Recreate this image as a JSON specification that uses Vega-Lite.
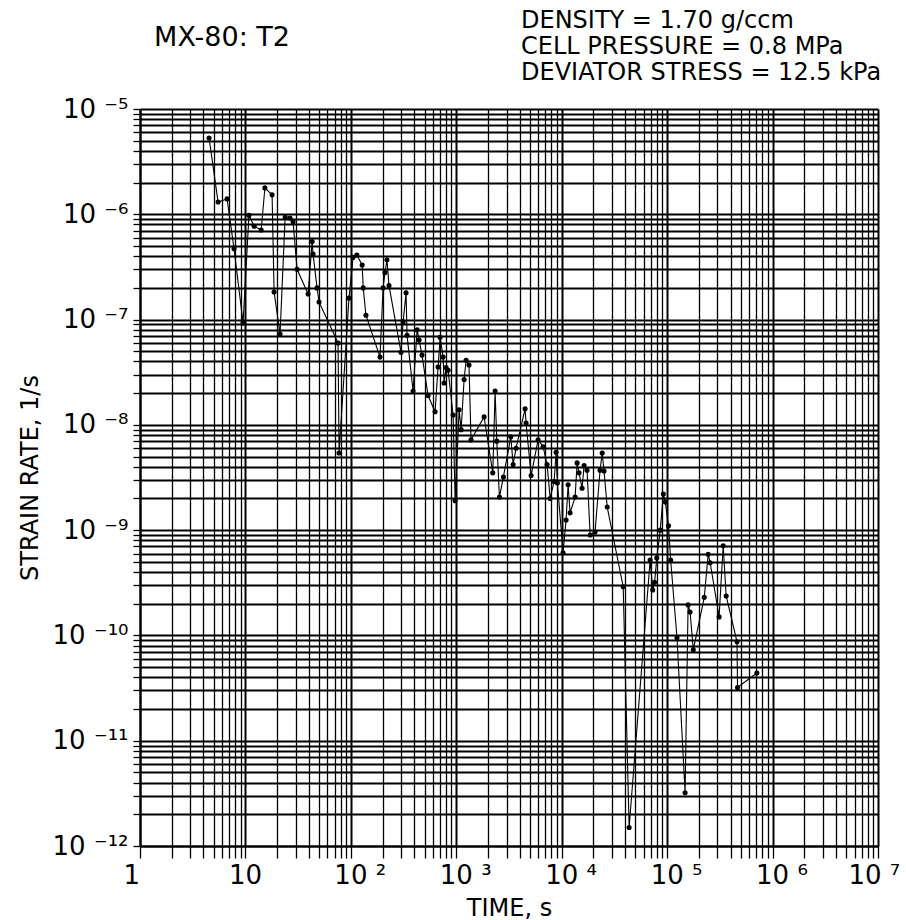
{
  "$schema": "https://vega.github.io/schema/vega-lite/v6.json",
  "autosize": {"type": "none"},
  "padding": {"left": 140, "top": 109, "right": 28, "bottom": 74},
  "width": 738,
  "height": 737,
  "background": "white",
  "config": {
    "view": {"stroke": null},
    "font": "DejaVu Sans",
    "axis": {
      "domainColor": "black", "domainWidth": 2,
      "gridColor": "black", "gridOpacity": 1,
      "tickColor": "black", "tickWidth": 1.3,
      "labelColor": "black", "titleColor": "black",
      "labelFont": "DejaVu Sans", "titleFont": "DejaVu Sans",
      "labelFontWeight": "normal", "titleFontWeight": "normal",
      "labelOverlap": false, "labelFlush": false, "labelBound": false
    }
  },
  "title": {
    "text": ["DENSITY = 1.70 g/ccm", "CELL PRESSURE = 0.8 MPa", "DEVIATOR STRESS = 12.5 kPa"],
    "anchor": "start", "frame": "group", "align": "left", "baseline": "bottom",
    "dx": 381, "dy": 97, "offset": 12, "fontSize": 24, "lineHeight": 26,
    "font": "DejaVu Sans", "fontWeight": "normal", "color": "black"
  },
  "layer": [
    {
      "data": {"name": "series", "values": [
        {"t": 4.52, "r": 5.3e-6}, {"t": 5.5, "r": 1.31e-6}, {"t": 6.7, "r": 1.4e-6}, {"t": 7.8, "r": 4.7e-7},
        {"t": 9.5, "r": 9.3e-8}, {"t": 10.8, "r": 9.8e-7}, {"t": 12.1, "r": 7.7e-7}, {"t": 14.1, "r": 7.1e-7},
        {"t": 15.3, "r": 1.78e-6}, {"t": 17.9, "r": 1.53e-6}, {"t": 18.7, "r": 1.83e-7}, {"t": 21.3, "r": 7.3e-8},
        {"t": 23.8, "r": 9.4e-7}, {"t": 26.5, "r": 9.2e-7}, {"t": 28.3, "r": 8.5e-7}, {"t": 30.9, "r": 3.0e-7},
        {"t": 39.3, "r": 1.75e-7}, {"t": 42.9, "r": 5.5e-7}, {"t": 43.8, "r": 4.2e-7}, {"t": 47.8, "r": 2.0e-7},
        {"t": 49.9, "r": 1.47e-7}, {"t": 75.6, "r": 6.0e-8}, {"t": 77.3, "r": 5.4e-9}, {"t": 96, "r": 1.6e-7},
        {"t": 105, "r": 3.9e-7}, {"t": 114, "r": 4.1e-7}, {"t": 128, "r": 3.3e-7}, {"t": 131, "r": 2.0e-7},
        {"t": 139, "r": 1.1e-7}, {"t": 189, "r": 4.4e-8}, {"t": 202, "r": 2.0e-7}, {"t": 211, "r": 2.8e-7},
        {"t": 220, "r": 3.7e-7}, {"t": 230, "r": 2.1e-7}, {"t": 299, "r": 4.9e-8}, {"t": 313, "r": 9.5e-8},
        {"t": 334, "r": 1.8e-7}, {"t": 341, "r": 7.1e-8}, {"t": 389, "r": 2.1e-8}, {"t": 425, "r": 8.0e-8},
        {"t": 444, "r": 6.4e-8}, {"t": 473, "r": 4.6e-8}, {"t": 540, "r": 1.9e-8}, {"t": 629, "r": 1.33e-8},
        {"t": 672, "r": 3.55e-8}, {"t": 702, "r": 6.8e-8}, {"t": 750, "r": 4.4e-8}, {"t": 766, "r": 2.5e-8},
        {"t": 800, "r": 3.5e-8}, {"t": 836, "r": 3.3e-8}, {"t": 933, "r": 1.24e-8}, {"t": 975, "r": 1.9e-9},
        {"t": 1064, "r": 1.39e-8}, {"t": 1111, "r": 9.0e-9}, {"t": 1186, "r": 2.7e-8}, {"t": 1239, "r": 4.1e-8},
        {"t": 1320, "r": 3.7e-8}, {"t": 1380, "r": 7.2e-9}, {"t": 1836, "r": 1.19e-8}, {"t": 2218, "r": 3.5e-9},
        {"t": 2335, "r": 2.1e-8}, {"t": 2422, "r": 7.0e-9}, {"t": 2566, "r": 2.06e-9}, {"t": 2800, "r": 3.2e-9},
        {"t": 3290, "r": 7.7e-9}, {"t": 3460, "r": 4.2e-9}, {"t": 3690, "r": 6.0e-9}, {"t": 4495, "r": 1.42e-8},
        {"t": 4590, "r": 1.04e-8}, {"t": 5125, "r": 3.3e-9}, {"t": 5970, "r": 7.2e-9}, {"t": 6665, "r": 6.2e-9},
        {"t": 7270, "r": 4.2e-9}, {"t": 7765, "r": 2.0e-9}, {"t": 8470, "r": 2.9e-9}, {"t": 8850, "r": 5.5e-9},
        {"t": 9100, "r": 2.8e-9}, {"t": 10300, "r": 6.1e-10}, {"t": 11000, "r": 1.25e-9}, {"t": 11500, "r": 2.7e-9},
        {"t": 12000, "r": 1.46e-9}, {"t": 13400, "r": 2.06e-9}, {"t": 14000, "r": 4.35e-9}, {"t": 14600, "r": 3.5e-9},
        {"t": 15600, "r": 2.5e-9}, {"t": 16300, "r": 4.1e-9}, {"t": 17400, "r": 3.7e-9}, {"t": 18600, "r": 9.0e-10},
        {"t": 20700, "r": 9.6e-10}, {"t": 23100, "r": 3.7e-9}, {"t": 24200, "r": 5.4e-9}, {"t": 25200, "r": 3.65e-9},
        {"t": 27000, "r": 1.66e-9}, {"t": 38300, "r": 2.9e-10}, {"t": 43600, "r": 1.5e-12}, {"t": 69000, "r": 5.2e-10},
        {"t": 73000, "r": 2.7e-10}, {"t": 76000, "r": 3.2e-10}, {"t": 79800, "r": 5.45e-10}, {"t": 86000, "r": 1.0e-9},
        {"t": 92000, "r": 2.2e-9}, {"t": 96000, "r": 1.85e-9}, {"t": 103000, "r": 1.1e-9}, {"t": 108000, "r": 5.2e-10},
        {"t": 124000, "r": 9.5e-11}, {"t": 148000, "r": 3.2e-12}, {"t": 158000, "r": 1.95e-10}, {"t": 165000, "r": 1.67e-10},
        {"t": 177000, "r": 7.3e-11}, {"t": 225000, "r": 2.3e-10}, {"t": 245000, "r": 5.9e-10}, {"t": 256000, "r": 4.9e-10},
        {"t": 311000, "r": 1.5e-10}, {"t": 340000, "r": 7.1e-10}, {"t": 363000, "r": 2.37e-10}, {"t": 460000, "r": 8.7e-11},
        {"t": 465000, "r": 3.2e-11}, {"t": 710000, "r": 4.4e-11}
      ]},
      "encoding": {
        "x": {
          "field": "t", "type": "quantitative",
          "scale": {"type": "log", "domain": [1, 10000000], "nice": false},
          "axis": {
            "title": "TIME, s", "titleFontSize": 24, "titlePadding": 8,
            "values": [1,2,3,4,5,6,7,8,9,10,20,30,40,50,60,70,80,90,100,200,300,400,500,600,700,800,900,1000,2000,3000,4000,5000,6000,7000,8000,9000,10000,20000,30000,40000,50000,60000,70000,80000,90000,100000,200000,300000,400000,500000,600000,700000,800000,900000,1000000,2000000,3000000,4000000,5000000,6000000,7000000,8000000,9000000,10000000],
            "labelExpr": "abs(log(datum.value)/LN10 - round(log(datum.value)/LN10)) < 0.001 ? (round(log(datum.value)/LN10) == 0 ? '1' : round(log(datum.value)/LN10) == 1 ? '10' : '10 ' + ['','','²','³','⁴','⁵','⁶','⁷'][round(log(datum.value)/LN10)]) : ''",
            "labelFontSize": 26, "labelAlign": "left",
            "labelOffset": {"condition": {"test": "datum.value > 5000000", "value": -30}, "value": -17},
            "labelPadding": 4,
            "tickSize": 12,
            "grid": true,
            "gridWidth": {"condition": {"test": "abs(log(datum.value)/LN10 - round(log(datum.value)/LN10)) < 0.001", "value": 2}, "value": 1.3}
          }
        },
        "y": {
          "field": "r", "type": "quantitative",
          "scale": {"type": "log", "domain": [1e-12, 1e-5], "nice": false},
          "axis": {
            "title": "STRAIN RATE, 1/s", "titleFontSize": 24, "titlePadding": 10,
            "values": [1e-12,2e-12,3e-12,4e-12,5e-12,6e-12,7e-12,8e-12,9e-12,1e-11,2e-11,3e-11,4e-11,5e-11,6e-11,7e-11,8e-11,9e-11,1e-10,2e-10,3e-10,4e-10,5e-10,6e-10,7e-10,8e-10,9e-10,1e-9,2e-9,3e-9,4e-9,5e-9,6e-9,7e-9,8e-9,9e-9,1e-8,2e-8,3e-8,4e-8,5e-8,6e-8,7e-8,8e-8,9e-8,1e-7,2e-7,3e-7,4e-7,5e-7,6e-7,7e-7,8e-7,9e-7,1e-6,2e-6,3e-6,4e-6,5e-6,6e-6,7e-6,8e-6,9e-6,1e-5],
            "labelExpr": "abs(log(datum.value)/LN10 - round(log(datum.value)/LN10)) < 0.001 ? '10 ' + ['⁻⁵','⁻⁶','⁻⁷','⁻⁸','⁻⁹','⁻¹⁰','⁻¹¹','⁻¹²'][-round(log(datum.value)/LN10) - 5] : ''",
            "labelFontSize": 26, "labelPadding": 5,
            "tickSize": 7,
            "grid": true,
            "gridWidth": {"condition": {"test": "abs(log(datum.value)/LN10 - round(log(datum.value)/LN10)) < 0.001", "value": 2.2}, "value": 1.8}
          }
        }
      },
      "layer": [
        {"mark": {"type": "line", "color": "black", "strokeWidth": 1.1}},
        {"mark": {"type": "point", "filled": true, "color": "black", "size": 26, "opacity": 1}}
      ]
    },
    {
      "data": {"values": [{"label": "MX-80: T2", "t": 6.0, "r": 4.72e-5}]},
      "mark": {"type": "text", "clip": false, "fontSize": 27, "align": "center", "baseline": "middle", "color": "black", "font": "DejaVu Sans"},
      "encoding": {
        "x": {"field": "t", "type": "quantitative"},
        "y": {"field": "r", "type": "quantitative"},
        "text": {"field": "label"}
      }
    }
  ]
}
